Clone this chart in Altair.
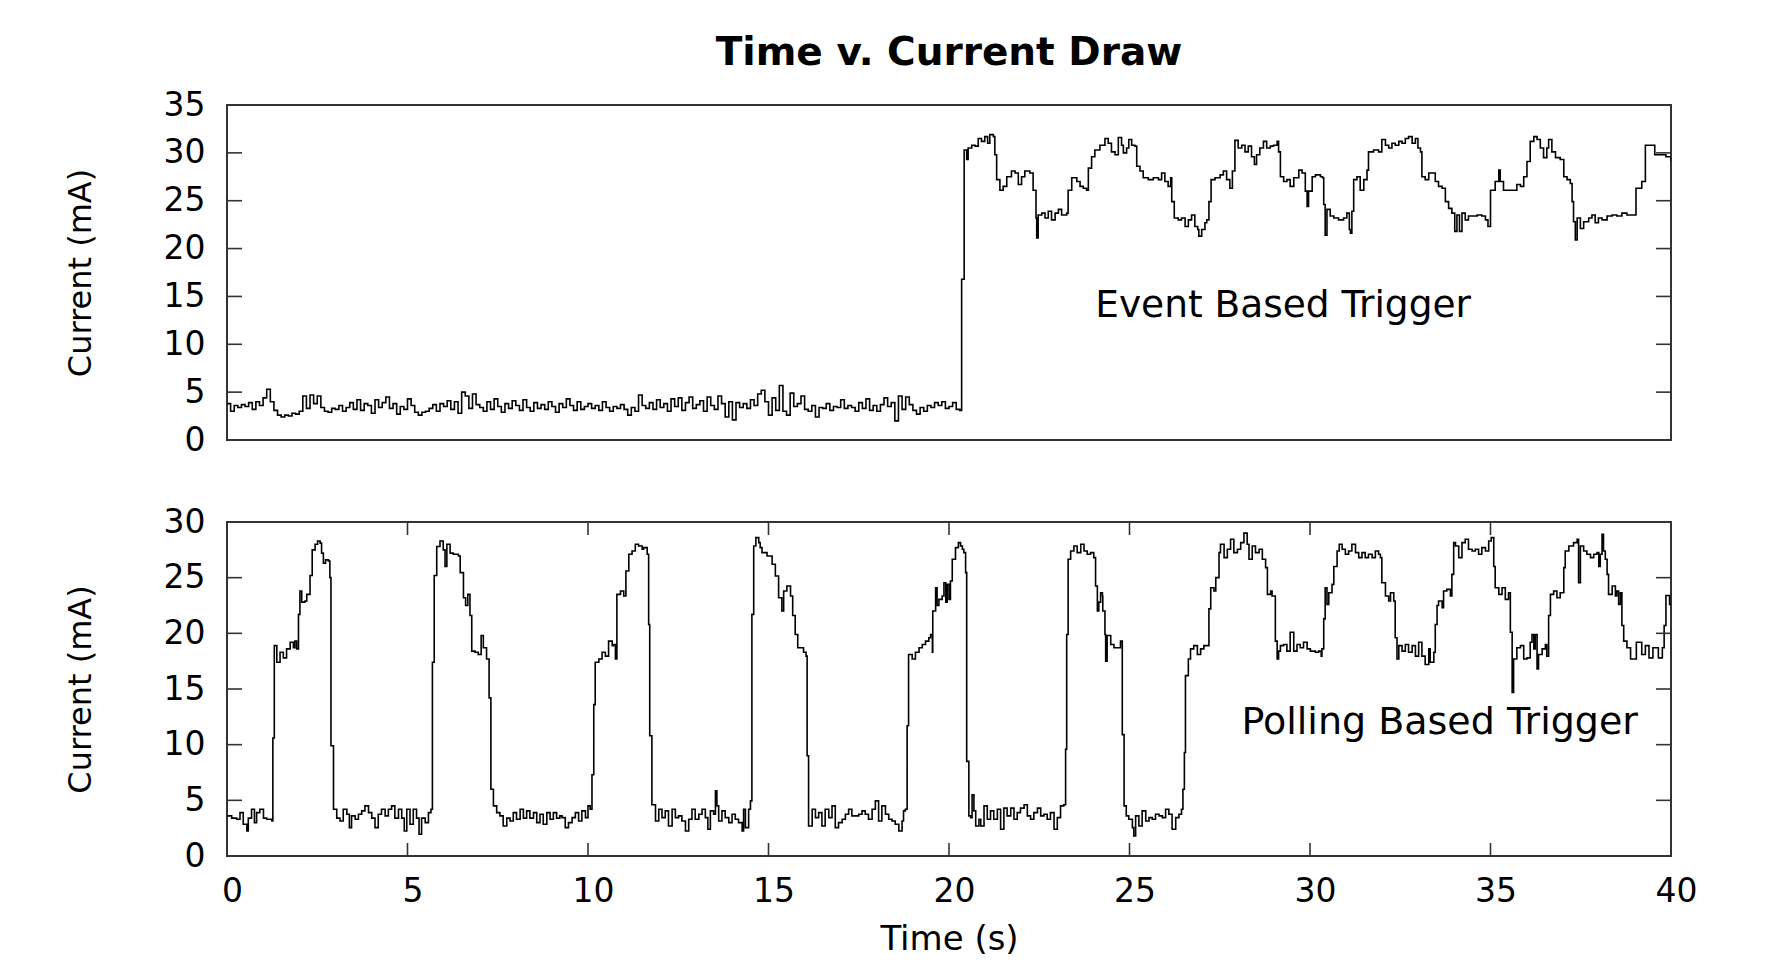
import altair as alt
import pandas as pd

FONT = "DejaVu Sans"

# ---------------- data ----------------
# Event based trigger: idle part (sampled every 0.1 s, 0.0 .. 20.3 s)
event_idle_t = [
    0.0, 0.1, 0.2, 0.3, 0.4, 0.5, 0.6, 0.7, 0.8, 0.9,
    1.0, 1.1, 1.2, 1.3, 1.4, 1.5, 1.6, 1.7, 1.8, 1.9,
    2.0, 2.1, 2.2, 2.3, 2.4, 2.5, 2.6, 2.7, 2.8, 2.9,
    3.0, 3.1, 3.2, 3.3, 3.4, 3.5, 3.6, 3.7, 3.8, 3.9,
    4.0, 4.1, 4.2, 4.3, 4.4, 4.5, 4.6, 4.7, 4.8, 4.9,
    5.0, 5.1, 5.2, 5.3, 5.4, 5.5, 5.6, 5.7, 5.8, 5.9,
    6.0, 6.1, 6.2, 6.3, 6.4, 6.5, 6.6, 6.7, 6.8, 6.9,
    7.0, 7.1, 7.2, 7.3, 7.4, 7.5, 7.6, 7.7, 7.8, 7.9,
    8.0, 8.1, 8.2, 8.3, 8.4, 8.5, 8.6, 8.7, 8.8, 8.9,
    9.0, 9.1, 9.2, 9.3, 9.4, 9.5, 9.6, 9.7, 9.8, 9.9,
    10.0, 10.1, 10.2, 10.3, 10.4, 10.5, 10.6, 10.7, 10.8, 10.9,
    11.0, 11.1, 11.2, 11.3, 11.4, 11.5, 11.6, 11.7, 11.8, 11.9,
    12.0, 12.1, 12.2, 12.3, 12.4, 12.5, 12.6, 12.7, 12.8, 12.9,
    13.0, 13.1, 13.2, 13.3, 13.4, 13.5, 13.6, 13.7, 13.8, 13.9,
    14.0, 14.1, 14.2, 14.3, 14.4, 14.5, 14.6, 14.7, 14.8, 14.9,
    15.0, 15.1, 15.2, 15.3, 15.4, 15.5, 15.6, 15.7, 15.8, 15.9,
    16.0, 16.1, 16.2, 16.3, 16.4, 16.5, 16.6, 16.7, 16.8, 16.9,
    17.0, 17.1, 17.2, 17.3, 17.4, 17.5, 17.6, 17.7, 17.8, 17.9,
    18.0, 18.1, 18.2, 18.3, 18.4, 18.5, 18.6, 18.7, 18.8, 18.9,
    19.0, 19.1, 19.2, 19.3, 19.4, 19.5, 19.6, 19.7, 19.8, 19.9,
    20.0, 20.1, 20.2, 20.3,
]
event_idle_v = [
    3.8, 3.0, 3.6, 3.4, 3.7, 3.5, 3.9, 3.2, 4.0, 3.6,
    4.4, 5.3, 4.0, 3.1, 2.6, 2.4, 2.6, 2.5, 2.8, 2.7,
    3.0, 4.6, 3.3, 4.7, 3.8, 4.6, 3.4, 3.0, 2.9, 3.3,
    3.2, 3.6, 3.0, 3.4, 3.9, 3.2, 4.2, 3.1, 3.8, 3.6,
    2.8, 4.2, 3.4, 3.9, 4.5, 3.3, 3.8, 2.7, 3.5, 3.2,
    4.3, 3.6, 2.9, 2.6, 2.9, 3.0, 3.3, 3.7, 3.0, 3.8,
    3.5, 4.1, 3.2, 4.0, 2.8, 5.0, 4.6, 3.3, 4.8, 3.7,
    3.4, 3.0, 4.0, 3.2, 4.3, 3.5, 2.9, 3.8, 3.3, 4.1,
    3.6, 3.1, 4.2, 3.4, 3.0, 3.9, 3.3, 3.7, 3.2, 4.0,
    3.5, 2.9, 3.8, 3.4, 4.3, 3.6, 3.1, 4.0, 3.2, 3.5,
    3.8, 3.3, 3.6, 3.1, 4.0, 3.4, 3.0, 3.5, 3.3, 3.7,
    3.2, 2.6, 3.4, 3.0, 4.7, 3.6, 3.3, 3.9, 3.2, 4.2,
    3.4, 3.8, 3.0, 4.3, 3.5, 4.4, 3.1, 3.9, 4.5, 3.3,
    3.7, 4.1, 3.0, 4.5, 3.6, 3.2, 4.6, 3.8, 2.4, 4.0,
    2.1, 3.9, 3.4, 3.8, 3.3, 4.2, 3.6, 4.8, 5.2, 4.0,
    2.6, 4.4, 3.1, 5.7, 3.0, 2.6, 4.9, 3.5, 3.8, 4.6,
    3.2, 3.0, 3.6, 2.4, 3.4, 3.3, 3.8, 3.1, 3.5, 3.4,
    4.2, 3.3, 3.6, 3.4, 3.0, 3.9, 3.3, 4.3, 3.1, 3.6,
    3.0, 3.7, 4.4, 3.5, 3.9, 2.0, 4.6, 3.2, 4.5, 3.7,
    3.1, 2.7, 3.4, 3.0, 3.6, 3.4, 3.9, 3.6, 4.0, 3.3,
    3.5, 3.9, 3.2, 3.1,
]
# Event based trigger: active part (time s, current mA)
event_active = [
    (20.35, 16.8), (20.42, 30.3), (20.49, 29.3), (20.53, 30.5), (20.63, 30.8), (20.72, 30.7),
    (20.81, 31.5), (20.90, 31.2), (20.99, 31.7), (21.07, 31.0), (21.13, 31.9), (21.23, 31.7),
    (21.27, 29.8), (21.32, 27.2), (21.41, 26.1), (21.50, 26.5), (21.60, 27.5), (21.73, 28.1),
    (21.83, 27.9), (21.92, 26.7), (22.01, 27.5), (22.10, 28.1), (22.24, 27.9), (22.33, 26.1),
    (22.41, 23.2), (22.43, 21.1), (22.47, 23.5), (22.57, 23.7), (22.66, 23.2), (22.75, 23.9),
    (22.84, 23.0), (22.94, 23.7), (23.03, 24.1), (23.12, 23.5), (23.26, 23.7), (23.30, 26.1),
    (23.40, 27.4), (23.54, 27.0), (23.63, 26.5), (23.72, 26.3), (23.81, 26.1), (23.86, 28.4),
    (23.95, 29.6), (24.04, 30.3), (24.18, 30.8), (24.32, 31.5), (24.41, 31.0), (24.50, 30.1),
    (24.60, 29.8), (24.69, 31.6), (24.78, 30.8), (24.83, 30.0), (24.92, 30.5), (24.98, 31.4),
    (25.06, 30.8), (25.15, 30.7), (25.20, 28.6), (25.29, 28.1), (25.38, 27.4), (25.52, 27.2),
    (25.66, 27.4), (25.80, 27.2), (25.89, 27.9), (25.98, 27.0), (26.07, 26.5), (26.14, 27.4),
    (26.17, 24.9), (26.24, 23.2), (26.35, 23.0), (26.44, 23.2), (26.54, 22.3), (26.63, 23.0),
    (26.72, 23.5), (26.81, 22.3), (26.89, 22.0), (26.92, 21.3), (27.00, 22.0), (27.09, 22.7),
    (27.14, 23.0), (27.20, 24.9), (27.26, 27.2), (27.37, 27.4), (27.51, 27.7), (27.60, 28.1),
    (27.69, 27.2), (27.78, 26.3), (27.85, 28.1), (27.92, 31.3), (28.01, 30.5), (28.11, 30.8),
    (28.20, 30.1), (28.29, 30.7), (28.38, 29.6), (28.46, 28.8), (28.52, 29.8), (28.61, 30.5),
    (28.71, 31.2), (28.80, 30.5), (28.90, 30.7), (28.99, 30.8), (29.09, 31.2), (29.13, 30.1),
    (29.18, 27.5), (29.27, 27.0), (29.36, 27.2), (29.45, 26.5), (29.55, 27.4), (29.69, 28.2),
    (29.78, 27.9), (29.87, 26.0), (29.92, 24.4), (29.96, 26.0), (30.06, 27.5), (30.15, 27.7),
    (30.29, 27.5), (30.35, 27.4), (30.38, 24.6), (30.42, 21.4), (30.47, 24.1), (30.56, 23.4),
    (30.66, 23.2), (30.79, 23.0), (30.93, 23.2), (31.02, 23.7), (31.09, 22.0), (31.12, 21.6),
    (31.16, 23.9), (31.21, 27.2), (31.30, 27.5), (31.39, 26.1), (31.49, 27.2), (31.58, 28.2),
    (31.62, 30.1), (31.76, 30.3), (31.90, 30.1), (31.99, 31.4), (32.09, 30.8), (32.18, 30.5),
    (32.27, 31.0), (32.36, 30.8), (32.46, 31.2), (32.55, 31.0), (32.64, 31.5), (32.73, 31.7),
    (32.83, 31.0), (32.92, 31.5), (32.99, 30.5), (33.06, 30.1), (33.10, 27.5), (33.19, 27.2),
    (33.29, 27.9), (33.38, 27.9), (33.47, 27.0), (33.56, 26.5), (33.66, 26.3), (33.75, 24.9),
    (33.84, 24.2), (33.93, 23.7), (34.01, 21.8), (34.07, 23.5), (34.14, 21.8), (34.21, 23.7),
    (34.30, 23.0), (34.39, 23.4), (34.53, 23.4), (34.63, 23.5), (34.76, 23.4), (34.86, 23.0),
    (34.93, 22.3), (35.00, 26.1), (35.13, 27.0), (35.23, 28.2), (35.27, 27.0), (35.36, 26.1),
    (35.50, 26.1), (35.64, 26.1), (35.73, 26.7), (35.83, 26.5), (35.92, 27.5), (36.01, 29.1),
    (36.10, 31.2), (36.20, 31.7), (36.29, 31.4), (36.38, 30.5), (36.47, 29.5), (36.56, 30.5),
    (36.61, 31.4), (36.70, 30.1), (36.80, 29.5), (36.93, 29.3), (37.03, 27.5), (37.12, 27.2),
    (37.21, 26.8), (37.26, 24.9), (37.30, 22.8), (37.35, 20.9), (37.40, 23.2), (37.49, 22.1),
    (37.58, 22.8), (37.72, 23.2), (37.81, 23.5), (37.90, 22.7), (37.99, 23.2), (38.09, 23.0),
    (38.23, 23.4), (38.37, 23.5), (38.50, 23.4), (38.64, 23.7), (38.78, 23.5), (38.88, 23.5),
    (39.03, 26.3), (39.19, 27.0), (39.29, 30.8), (39.45, 30.8), (39.55, 29.8), (39.71, 29.8),
    (39.86, 29.6), (40.00, 29.1),
]

# Polling based trigger (time s, current mA)
polling_0_10 = [
    (0.00, 3.6), (0.13, 3.4), (0.27, 3.3), (0.36, 3.9), (0.45, 2.85), (0.55, 2.25), (0.59, 3.4),
    (0.68, 4.2), (0.76, 3.0), (0.82, 3.9), (0.91, 4.2), (1.01, 3.4), (1.10, 3.3), (1.24, 3.15),
    (1.27, 10.6), (1.31, 18.9), (1.38, 17.4), (1.47, 18.3), (1.56, 17.8), (1.65, 18.6), (1.75, 19.2),
    (1.84, 18.7), (1.88, 19.3), (1.93, 18.6), (1.98, 21.7), (2.02, 23.8), (2.07, 22.8), (2.16, 22.9),
    (2.21, 23.5), (2.30, 25.2), (2.36, 27.5), (2.44, 28.0), (2.51, 28.3), (2.58, 28.1), (2.62, 27.2),
    (2.67, 26.3), (2.73, 26.6), (2.81, 26.5), (2.85, 25.0), (2.88, 9.9), (2.95, 4.2), (3.04, 3.4),
    (3.13, 3.15), (3.22, 4.2), (3.32, 3.75), (3.39, 2.55), (3.45, 3.6), (3.55, 3.3), (3.64, 3.75),
    (3.73, 4.05), (3.82, 4.5), (3.92, 3.9), (4.01, 3.4), (4.10, 2.55), (4.19, 3.75), (4.28, 4.2),
    (4.38, 3.6), (4.47, 4.2), (4.56, 4.5), (4.65, 3.4), (4.75, 4.2), (4.84, 3.4), (4.91, 2.25),
    (4.98, 4.2), (5.07, 2.85), (5.16, 4.2), (5.25, 3.4), (5.32, 1.95), (5.39, 3.4), (5.49, 3.0),
    (5.58, 3.9), (5.65, 4.2), (5.69, 17.4), (5.74, 25.2), (5.81, 27.8), (5.90, 28.3), (5.99, 27.5),
    (6.04, 26.0), (6.09, 28.0), (6.18, 27.2), (6.27, 27.1), (6.41, 26.95), (6.46, 25.45), (6.55, 23.2),
    (6.61, 22.5), (6.67, 23.5), (6.73, 21.6), (6.78, 18.4), (6.87, 18.3), (6.96, 18.1), (7.04, 19.8),
    (7.10, 18.7), (7.19, 17.7), (7.26, 14.2), (7.31, 6.0), (7.38, 4.5), (7.47, 3.9), (7.56, 3.6),
    (7.65, 2.7), (7.75, 3.4), (7.84, 3.15), (7.93, 3.9), (8.02, 3.3), (8.12, 4.2), (8.21, 3.4),
    (8.30, 4.05), (8.39, 3.4), (8.49, 3.9), (8.58, 3.0), (8.67, 3.75), (8.76, 2.85), (8.86, 3.9),
    (8.95, 3.3), (9.04, 3.9), (9.13, 3.4), (9.22, 3.6), (9.28, 3.45), (9.37, 2.55), (9.46, 3.0),
    (9.56, 3.45), (9.65, 3.9), (9.74, 3.15), (9.83, 4.05), (9.93, 3.45),
]
polling_10_20 = [
    (10.00, 4.5), (10.06, 4.2), (10.11, 7.3), (10.16, 13.6), (10.20, 17.4), (10.30, 17.7),
    (10.39, 18.3), (10.48, 17.95), (10.57, 19.3), (10.67, 18.9), (10.71, 19.0), (10.76, 17.7),
    (10.80, 23.5), (10.90, 23.8), (10.99, 23.35), (11.05, 25.6), (11.13, 27.1), (11.22, 27.4),
    (11.31, 28.0), (11.40, 27.85), (11.50, 27.55), (11.54, 27.7), (11.64, 27.1), (11.68, 20.8),
    (11.71, 10.8), (11.77, 4.6), (11.87, 3.15), (11.96, 4.2), (12.05, 3.45), (12.14, 4.05),
    (12.23, 2.7), (12.33, 4.2), (12.42, 3.45), (12.51, 3.6), (12.60, 3.15), (12.70, 2.25),
    (12.79, 3.3), (12.88, 4.2), (12.97, 3.3), (13.07, 3.75), (13.16, 4.2), (13.25, 3.45),
    (13.32, 2.4), (13.39, 4.05), (13.48, 3.75), (13.53, 5.85), (13.57, 4.5), (13.62, 3.15),
    (13.71, 4.05), (13.80, 3.45), (13.90, 3.0), (13.99, 3.75), (14.08, 3.3), (14.17, 3.0),
    (14.27, 2.25), (14.31, 4.2), (14.36, 2.55), (14.45, 4.2), (14.50, 4.95), (14.54, 21.7),
    (14.59, 27.85), (14.65, 28.6), (14.73, 28.15), (14.77, 27.7), (14.82, 27.25), (14.96, 26.95),
    (15.10, 26.2), (15.19, 25.15), (15.28, 23.2), (15.37, 22.0), (15.42, 23.8), (15.51, 24.25),
    (15.61, 23.35), (15.67, 21.6), (15.74, 19.9), (15.81, 18.7), (15.88, 18.7), (15.97, 18.3),
    (16.04, 17.95), (16.07, 9.0), (16.11, 2.7), (16.21, 4.2), (16.30, 3.45), (16.39, 3.9),
    (16.48, 2.7), (16.57, 4.2), (16.67, 3.45), (16.76, 4.5), (16.85, 2.55), (16.94, 3.0),
    (17.04, 3.3), (17.13, 3.75), (17.22, 4.2), (17.31, 3.6), (17.41, 3.6), (17.50, 3.75),
    (17.59, 4.05), (17.68, 3.75), (17.77, 3.3), (17.87, 4.2), (17.96, 4.95), (18.05, 3.15),
    (18.14, 4.5), (18.24, 3.75), (18.33, 3.3), (18.42, 3.15), (18.51, 2.85), (18.61, 2.25),
    (18.70, 3.15), (18.74, 4.05), (18.79, 4.2), (18.84, 11.7), (18.88, 18.1), (18.98, 17.7),
    (19.07, 18.3), (19.17, 18.7), (19.26, 19.0), (19.35, 19.3), (19.44, 19.6), (19.49, 19.9),
    (19.54, 18.3), (19.55, 22.0), (19.63, 24.1), (19.67, 22.5), (19.72, 23.05), (19.81, 23.35),
    (19.86, 24.55), (19.91, 22.8), (19.95, 24.4),
]
polling_20_30 = [
    (20.00, 23.05), (20.04, 24.7), (20.09, 26.65), (20.18, 27.7), (20.26, 28.15), (20.32, 27.85),
    (20.37, 27.55), (20.41, 27.25), (20.46, 25.45), (20.49, 8.5), (20.55, 3.6), (20.60, 3.45),
    (20.64, 5.5), (20.69, 4.05), (20.74, 2.7), (20.83, 3.3), (20.88, 2.7), (20.97, 4.5),
    (21.06, 3.3), (21.15, 4.05), (21.24, 3.3), (21.34, 4.2), (21.43, 2.4), (21.52, 4.3),
    (21.61, 3.6), (21.71, 4.3), (21.80, 3.3), (21.89, 3.9), (21.98, 4.3), (22.08, 4.6),
    (22.17, 3.6), (22.26, 3.3), (22.35, 3.9), (22.45, 4.3), (22.54, 3.6), (22.63, 3.75),
    (22.72, 3.3), (22.81, 3.9), (22.91, 2.4), (23.00, 3.45), (23.09, 4.5), (23.18, 4.6),
    (23.23, 9.6), (23.26, 19.9), (23.30, 26.65), (23.37, 27.4), (23.46, 27.85), (23.55, 27.25),
    (23.65, 28.0), (23.74, 27.4), (23.83, 27.1), (23.92, 27.25), (24.01, 26.8), (24.06, 24.25),
    (24.11, 22.0), (24.15, 22.8), (24.20, 23.65), (24.25, 23.35), (24.26, 22.0), (24.32, 19.9),
    (24.34, 17.5), (24.38, 19.8), (24.48, 19.0), (24.57, 18.7), (24.66, 18.7), (24.75, 19.3),
    (24.80, 10.9), (24.85, 4.5), (24.91, 3.6), (24.98, 3.3), (25.08, 2.55), (25.12, 1.8),
    (25.17, 3.6), (25.26, 2.7), (25.35, 4.05), (25.45, 3.15), (25.54, 3.45), (25.63, 3.3),
    (25.72, 3.75), (25.82, 3.6), (25.91, 3.45), (26.00, 4.2), (26.09, 3.75), (26.18, 2.4),
    (26.28, 3.45), (26.37, 3.75), (26.44, 4.2), (26.48, 6.0), (26.52, 9.3), (26.55, 16.2),
    (26.63, 17.7), (26.69, 18.6), (26.78, 18.9), (26.88, 18.1), (26.97, 18.6), (27.06, 18.9),
    (27.15, 18.9), (27.20, 22.2), (27.25, 24.1), (27.34, 23.8), (27.39, 25.0), (27.48, 27.25),
    (27.52, 28.0), (27.62, 26.8), (27.71, 27.55), (27.80, 28.45), (27.89, 27.25), (27.99, 27.55),
    (28.08, 28.15), (28.17, 29.0), (28.26, 28.0), (28.31, 26.65), (28.40, 27.85), (28.49, 27.25),
    (28.59, 27.55), (28.68, 26.65), (28.77, 25.9), (28.82, 23.5), (28.91, 23.8), (28.95, 23.35),
    (29.04, 19.3), (29.09, 17.7), (29.13, 18.4), (29.18, 18.9), (29.27, 19.0), (29.36, 18.4),
    (29.45, 20.1), (29.55, 18.4), (29.64, 19.0), (29.73, 18.7), (29.82, 19.2), (29.92, 18.6),
]
polling_30_40 = [
    (30.01, 18.4), (30.15, 18.3), (30.24, 18.4), (30.31, 17.95), (30.33, 18.6), (30.38, 21.3),
    (30.42, 24.1), (30.47, 22.6), (30.52, 23.65), (30.61, 24.4), (30.66, 26.0), (30.75, 27.4),
    (30.81, 28.0), (30.89, 27.55), (30.98, 27.1), (31.07, 27.4), (31.16, 28.0), (31.26, 27.25),
    (31.35, 26.8), (31.44, 27.25), (31.53, 26.8), (31.62, 27.1), (31.72, 26.8), (31.81, 27.4),
    (31.90, 27.1), (31.95, 26.8), (31.99, 24.55), (32.09, 23.35), (32.18, 22.9), (32.23, 23.65),
    (32.32, 22.9), (32.36, 19.6), (32.41, 17.7), (32.46, 18.9), (32.55, 18.4), (32.64, 19.0),
    (32.73, 18.3), (32.83, 18.9), (32.92, 17.95), (33.01, 19.2), (33.10, 17.95), (33.19, 17.2),
    (33.29, 18.6), (33.33, 17.4), (33.43, 18.3), (33.47, 20.8), (33.52, 22.5), (33.56, 22.9),
    (33.66, 22.3), (33.70, 23.8), (33.79, 23.95), (33.89, 23.35), (33.93, 25.3), (33.98, 28.15),
    (34.03, 27.85), (34.12, 26.8), (34.21, 28.15), (34.30, 28.45), (34.39, 27.55), (34.49, 27.4),
    (34.58, 27.55), (34.67, 27.1), (34.76, 27.7), (34.86, 27.4), (34.95, 28.3), (35.02, 28.6),
    (35.09, 26.0), (35.13, 24.1), (35.23, 23.5), (35.32, 24.1), (35.41, 23.05), (35.50, 23.65),
    (35.55, 20.1), (35.60, 14.7), (35.64, 17.7), (35.73, 18.7), (35.83, 18.9), (35.92, 17.7),
    (36.01, 17.8), (36.10, 19.2), (36.15, 19.9), (36.20, 18.6), (36.24, 19.9), (36.29, 16.8),
    (36.33, 18.1), (36.43, 18.6), (36.52, 19.0), (36.56, 17.95), (36.61, 21.6), (36.66, 23.5),
    (36.75, 23.8), (36.84, 23.2), (36.93, 23.65), (37.03, 25.9), (37.07, 27.4), (37.17, 27.85),
    (37.30, 28.15), (37.40, 28.45), (37.44, 24.55), (37.49, 27.85), (37.58, 27.4), (37.67, 27.1),
    (37.77, 26.8), (37.86, 27.1), (37.95, 27.25), (38.00, 26.0), (38.04, 27.1), (38.09, 28.9),
    (38.13, 27.4), (38.18, 26.65), (38.23, 25.3), (38.27, 23.5), (38.37, 24.25), (38.46, 23.35),
    (38.50, 23.8), (38.55, 22.6), (38.60, 23.65), (38.64, 20.7), (38.69, 19.3), (38.78, 18.7),
    (38.88, 17.7), (39.04, 19.2), (39.19, 18.1), (39.29, 18.9), (39.39, 17.8), (39.50, 18.7),
    (39.65, 17.8), (39.76, 18.7), (39.81, 20.7), (39.86, 23.4), (39.96, 22.6), (40.00, 22.6),
]

top_y_labels = [0, 5, 10, 15, 20, 25, 30, 35]
top_y_ticks = [5, 10, 15, 20, 25, 30]
bot_y_labels = [0, 5, 10, 15, 20, 25, 30]
bot_y_ticks = [5, 10, 15, 20, 25]
x_labels = [0, 5, 10, 15, 20, 25, 30, 35, 40]
x_ticks = [5, 10, 15, 20, 25, 30, 35]

top_note = {"t": [24.05], "v": [12.8], "label": ["Event Based Trigger"]}
bot_note = {"t": [28.1], "v": [10.96], "label": ["Polling Based Trigger"]}

# ---------------- frames ----------------
event_pts = list(zip(event_idle_t, event_idle_v)) + event_active
event_df = pd.DataFrame(event_pts, columns=["t", "v"])
poll_df = pd.DataFrame(polling_0_10 + polling_10_20 + polling_20_30 + polling_30_40,
                       columns=["t", "v"])

W = 1444
H_TOP = 335
H_BOT = 334
TICK = 15
INK = "#333333"

x_scale = alt.Scale(domain=[0, 40], nice=False, zero=False)
top_scale = alt.Scale(domain=[0, 35], nice=False)
bot_scale = alt.Scale(domain=[0, 30], nice=False)


def y_axis(vals):
    return alt.Axis(values=vals, title="Current (mA)", ticks=False, tickSize=0, domain=False,
                    grid=False, labelFontSize=33, labelFont=FONT, labelColor="black",
                    labelPadding=22, labelOverlap=False, titleFontSize=32, titleFont=FONT,
                    titleFontWeight="normal", titleColor="black", titlePadding=66)


top_y_axis = y_axis(top_y_labels)
bot_y_axis = y_axis(bot_y_labels)
x_axis = alt.Axis(values=x_labels, title="Time (s)", ticks=False, tickSize=0, domain=False,
                  grid=False, labelFontSize=33, labelFont=FONT, labelColor="black",
                  labelPadding=19, labelOffset=5, labelFlush=False, labelOverlap=False,
                  titleFontSize=34, titleFont=FONT, titleFontWeight="normal",
                  titleColor="black", titlePadding=14)

# ---------------- top panel ----------------
top_line = alt.Chart(event_df).mark_line(
    color="black", strokeWidth=1.6, interpolate="step-after", clip=True
).encode(
    x=alt.X("t:Q", scale=x_scale, axis=None),
    y=alt.Y("v:Q", scale=top_scale, axis=top_y_axis),
)
top_tick_df = pd.DataFrame({"v": top_y_ticks})
top_ticks_l = alt.Chart(top_tick_df).mark_rule(color=INK, strokeWidth=1.6).encode(
    y=alt.Y("v:Q", scale=top_scale, axis=top_y_axis),
    x=alt.value(0), x2=alt.value(TICK),
)
top_ticks_r = alt.Chart(top_tick_df).mark_rule(color=INK, strokeWidth=1.6).encode(
    y=alt.Y("v:Q", scale=top_scale, axis=top_y_axis),
    x=alt.value(W - TICK), x2=alt.value(W),
)
top_text = alt.Chart(pd.DataFrame(top_note)).mark_text(
    align="left", baseline="alphabetic", font=FONT, fontSize=37.5, color="black"
).encode(
    x=alt.X("t:Q", scale=x_scale, axis=None),
    y=alt.Y("v:Q", scale=top_scale, axis=top_y_axis),
    text="label:N",
)
top = alt.layer(top_line, top_ticks_l, top_ticks_r, top_text).properties(
    width=W, height=H_TOP,
    title=alt.Title("Time v. Current Draw", font=FONT, fontSize=39, fontWeight="bold",
                    color="black", anchor="middle", baseline="bottom", offset=-23),
)

# ---------------- bottom panel ----------------
bot_line = alt.Chart(poll_df).mark_line(
    color="black", strokeWidth=1.6, interpolate="step-after", clip=True
).encode(
    x=alt.X("t:Q", scale=x_scale, axis=x_axis),
    y=alt.Y("v:Q", scale=bot_scale, axis=bot_y_axis),
)
bot_ytick_df = pd.DataFrame({"v": bot_y_ticks})
bot_xtick_df = pd.DataFrame({"t": x_ticks})
bot_ticks_l = alt.Chart(bot_ytick_df).mark_rule(color=INK, strokeWidth=1.6).encode(
    y=alt.Y("v:Q", scale=bot_scale, axis=bot_y_axis),
    x=alt.value(0), x2=alt.value(TICK),
)
bot_ticks_r = alt.Chart(bot_ytick_df).mark_rule(color=INK, strokeWidth=1.6).encode(
    y=alt.Y("v:Q", scale=bot_scale, axis=bot_y_axis),
    x=alt.value(W - TICK), x2=alt.value(W),
)
bot_ticks_b = alt.Chart(bot_xtick_df).mark_rule(color=INK, strokeWidth=1.6).encode(
    x=alt.X("t:Q", scale=x_scale, axis=x_axis),
    y=alt.value(H_BOT - 13), y2=alt.value(H_BOT),
)
bot_ticks_t = alt.Chart(bot_xtick_df).mark_rule(color=INK, strokeWidth=1.6).encode(
    x=alt.X("t:Q", scale=x_scale, axis=x_axis),
    y=alt.value(0), y2=alt.value(13),
)
bot_text = alt.Chart(pd.DataFrame(bot_note)).mark_text(
    align="left", baseline="alphabetic", font=FONT, fontSize=38, color="black"
).encode(
    x=alt.X("t:Q", scale=x_scale, axis=x_axis),
    y=alt.Y("v:Q", scale=bot_scale, axis=bot_y_axis),
    text="label:N",
)
bottom = alt.layer(bot_line, bot_ticks_l, bot_ticks_r, bot_ticks_b, bot_ticks_t, bot_text).properties(
    width=W, height=H_BOT
)

chart = alt.vconcat(top, bottom, spacing=82, bounds="flush").properties(
    padding={"left": 55, "top": 25, "right": 10, "bottom": 5},
    background="white",
).configure_view(stroke=INK, strokeWidth=2)

chart.save("out.html", embed_options={"renderer": "svg", "actions": False})
